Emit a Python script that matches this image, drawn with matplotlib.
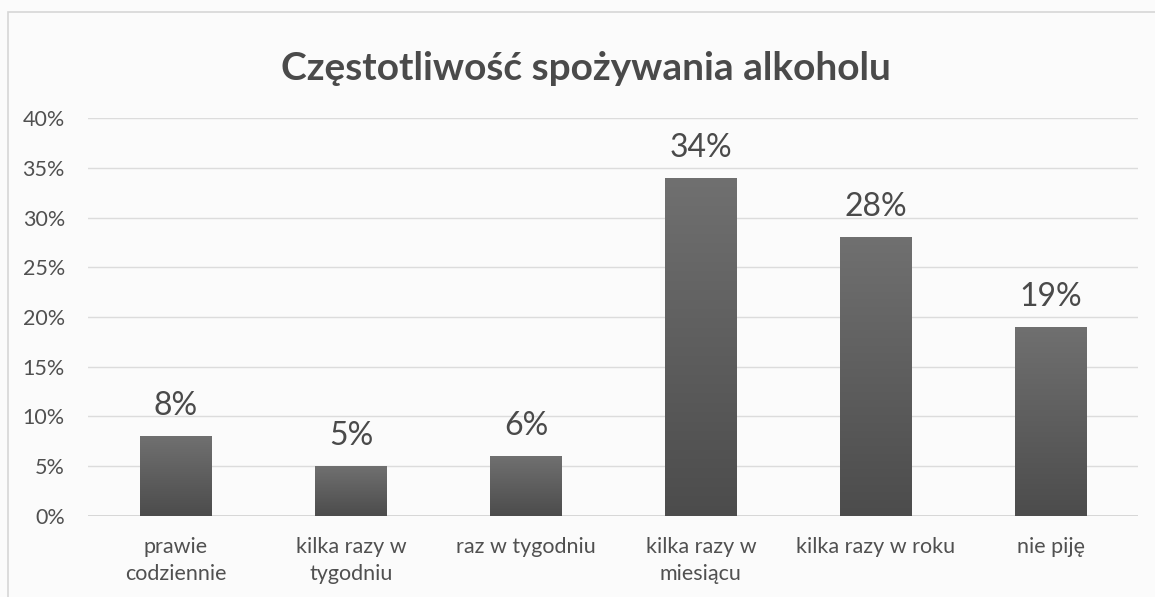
import numpy as np
import matplotlib.pyplot as plt
from matplotlib.colors import LinearSegmentedColormap
from matplotlib.patches import Rectangle

categories = ["prawie\ncodziennie", "kilka razy w\ntygodniu", "raz w tygodniu",
              "kilka razy w\nmiesiącu", "kilka razy w roku", "nie piję"]
values = [8, 5, 6, 34, 28, 19]
yticks = [0, 5, 10, 15, 20, 25, 30, 35, 40]

plt.rcParams['font.family'] = ['Lato', 'DejaVu Sans']

fig = plt.figure(figsize=(11.55, 5.97), dpi=100)
fig.patch.set_facecolor('#fbfbfb')
fig.patches.append(Rectangle((0.007, -0.01), 1.0, 0.99, transform=fig.transFigure,
                             fill=False, edgecolor='#d6d6d6', lw=1.2))

ax = fig.add_axes([0.0766, 0.1357, 0.909, 0.6666])
ax.set_facecolor('none')

x = np.arange(len(categories))
bars = ax.bar(x, values, width=0.41, color='#5c5c5c', zorder=2)

# vertical gradient on bars, lighter at the top
cmap = LinearSegmentedColormap.from_list('g', ['#4c4c4c', '#707070'])
grad = np.linspace(0, 1, 256).reshape(-1, 1)
for b in bars:
    im = ax.imshow(grad, cmap=cmap, aspect='auto', origin='lower', zorder=3,
                   extent=[b.get_x(), b.get_x() + b.get_width(), 0, b.get_height()])
    im.set_clip_path(b)

for xi, v in zip(x, values):
    ax.text(xi, v + 1.5, f"{v}%", ha='center', va='bottom', fontsize=23, color='#4a4a4a')

ax.set_xlim(-0.5, len(categories) - 0.5)
ax.set_ylim(0, 40)
ax.set_yticks(yticks)
ax.set_yticklabels([f"{t}%" for t in yticks], fontsize=15.5, color='#505050')
ax.set_xticks(x)
ax.set_xticklabels(categories, fontsize=15.5, color='#505050', linespacing=1.45)
ax.tick_params(axis='both', length=0)
ax.tick_params(axis='x', pad=15)
ax.tick_params(axis='y', pad=17)
ax.grid(axis='y', color='#dcdcdc', lw=1, zorder=0)
for s in ax.spines.values():
    s.set_visible(False)
ax.axhline(0, color='#cfcfcf', lw=1.2, zorder=1)

fig.text(0.507, 0.886, "Częstotliwość spożywania alkoholu", ha='center', va='center',
         fontsize=28, fontweight='bold', color='#4a4a4a')

fig.savefig('out.png', dpi=100, facecolor=fig.get_facecolor())
